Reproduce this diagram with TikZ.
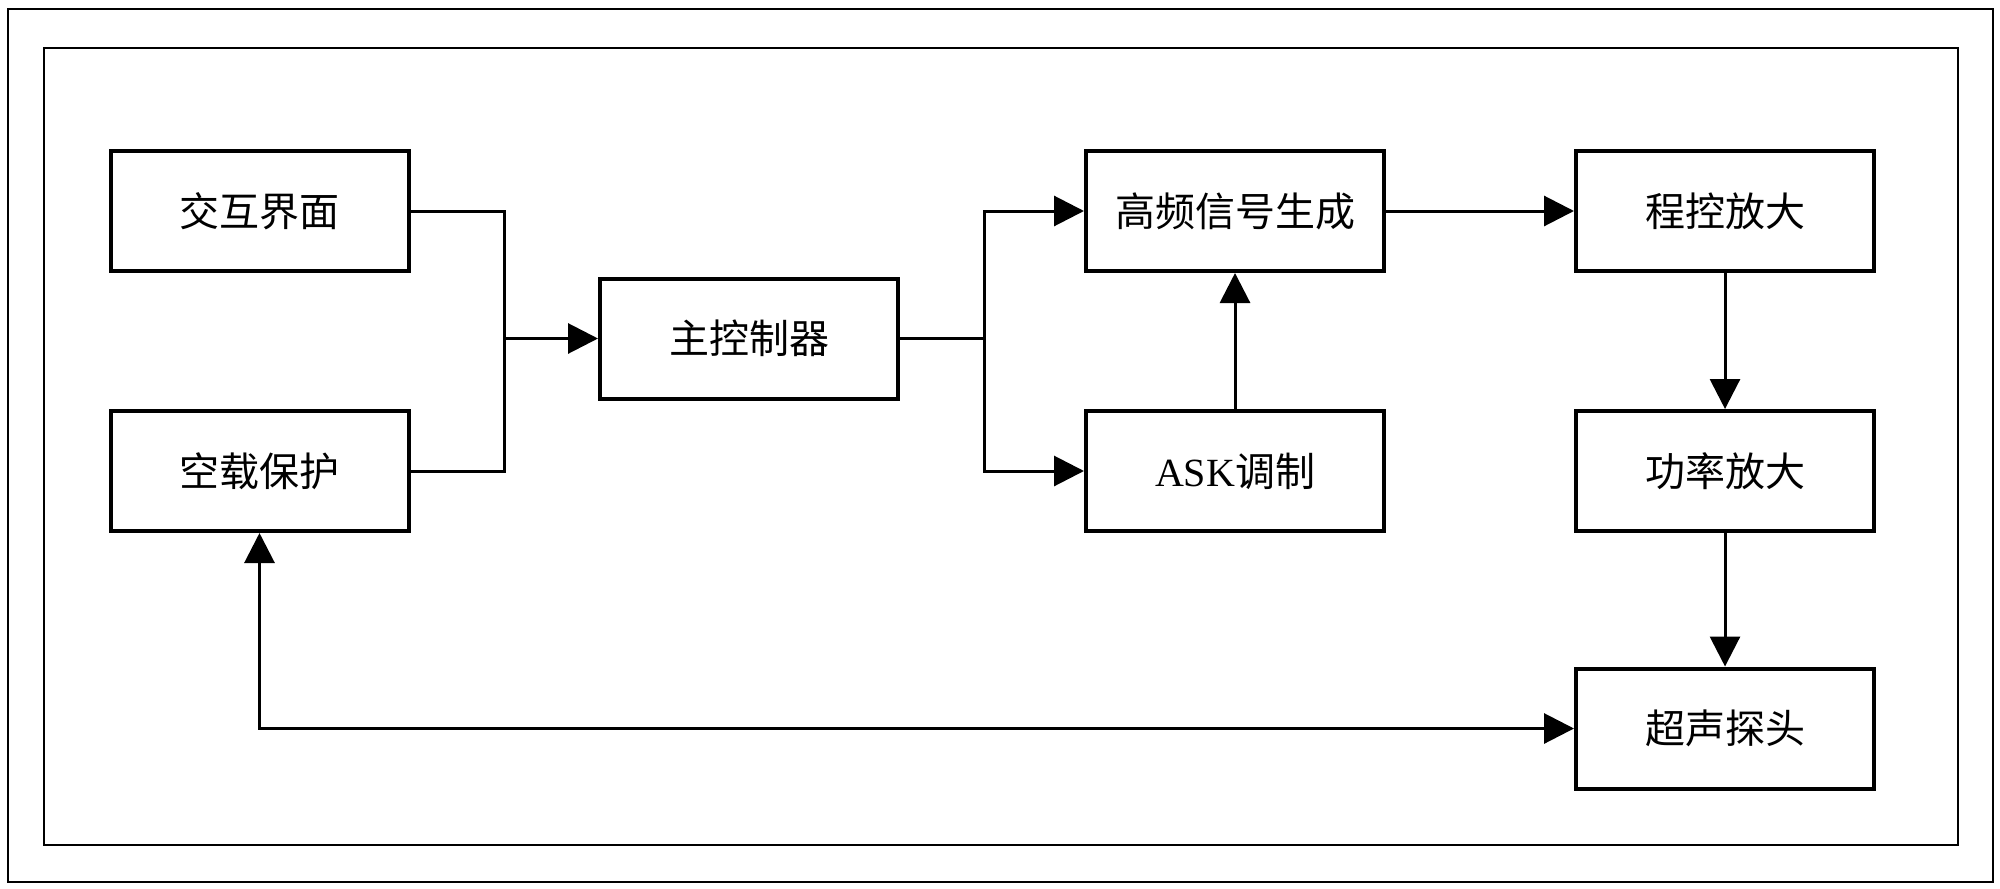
\documentclass[tikz,border=0pt]{standalone}
\usepackage{fontspec}
\setmainfont{Liberation Serif}
\newfontfamily\cjk{Noto Sans CJK SC}
\usetikzlibrary{arrows.meta}
\begin{document}
\begin{tikzpicture}[x=0.5pt,y=-0.5pt, line width=1.5pt,
 blk/.style={draw, line width=2pt, minimum width=149pt, minimum height=60pt, inner sep=0pt, font=\fontsize{20pt}{24pt}\selectfont},
 frm/.style={draw, line width=1.3pt},
 tip/.tip={Triangle[length=15pt,width=15pt]},
 arr/.style={-tip}]
\useasboundingbox (0,0) rectangle (2000,888);
\draw[frm] (8,9) rectangle (1993,882);
\draw[frm] (44,48) rectangle (1958,845);
\node[blk] (jh) at (259.5,211) {\cjk 交互界面};
\node[blk] (kz) at (259.5,471) {\cjk 空载保护};
\node[blk] (zk) at (749,338.5) {\cjk 主控制器};
\node[blk] (gp) at (1235,211) {\cjk 高频信号生成};
\node[blk] (ask) at (1235,471) {ASK{\cjk 调制}};
\node[blk] (ck) at (1725,211) {\cjk 程控放大};
\node[blk] (gl) at (1725,471) {\cjk 功率放大};
\node[blk] (cs) at (1725,728.5) {\cjk 超声探头};
\coordinate (m1) at (504,338.5);
\coordinate (m2) at (984,338.5);
\draw (jh.east) -| (m1) |- (kz.east);
\draw[arr] (m1) -- (zk.west);
\draw (zk.east) -- (m2);
\draw[arr] (m2) |- (gp.west);
\draw[arr] (m2) |- (ask.west);
\draw[arr] (ask.north) -- (gp.south);
\draw[arr] (gp.east) -- (ck.west);
\draw[arr] (ck.south) -- (gl.north);
\draw[arr] (gl.south) -- (cs.north);
\draw[tip-tip] (kz.south) |- (cs.west);
\end{tikzpicture}
\end{document}
